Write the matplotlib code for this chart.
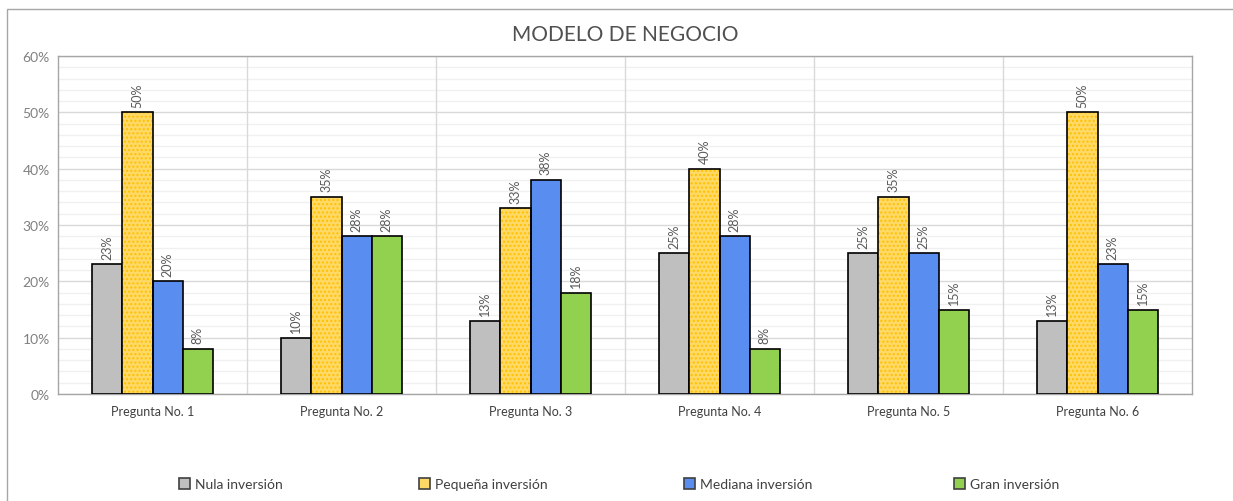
import matplotlib.pyplot as plt
import matplotlib.patches as mpatches
from matplotlib.ticker import MultipleLocator, FuncFormatter
import numpy as np

plt.rcParams['font.family'] = ['Lato', 'DejaVu Sans']

preguntas = ['Pregunta No. 1', 'Pregunta No. 2', 'Pregunta No. 3',
             'Pregunta No. 4', 'Pregunta No. 5', 'Pregunta No. 6']
series = ['Nula inversión', 'Pequeña inversión', 'Mediana inversión', 'Gran inversión']
nula = [23, 10, 13, 25, 25, 13]
pequena = [50, 35, 33, 40, 35, 50]
mediana = [20, 28, 38, 28, 25, 23]
gran = [8, 28, 18, 8, 15, 15]

valores = [nula, pequena, mediana, gran]
colores = ['#BFBFBF', '#FFD966', '#5A8DF0', '#92D050']

fig = plt.figure(figsize=(12.33, 5.02), dpi=100)
W, H = 1233, 502
ax = fig.add_axes([58 / W, 1 - 395 / H, (1192 - 58) / W, (395 - 57) / H])

# marco exterior (solo se ven el borde izquierdo y el superior)
fig.patches.append(mpatches.Rectangle((7 / W, -0.1), 1.2, 1.1 - 10 / H,
                                      transform=fig.transFigure, fill=False,
                                      edgecolor='#A6A6A6', linewidth=1.0))

x = np.arange(len(preguntas))
bw = 0.16
for i, (vals, col) in enumerate(zip(valores, colores)):
    pos = x + (i - 1.5) * bw
    if i == 1:
        # fondo con trama
        ax.bar(pos, vals, bw, color=col, hatch='....', edgecolor='#FFC000',
               linewidth=0, zorder=3)
        ax.bar(pos, vals, bw, fill=False, edgecolor='black',
               linewidth=1.2, zorder=4)
    else:
        ax.bar(pos, vals, bw, color=col, edgecolor='black',
               linewidth=1.2, zorder=3)
    for p, v in zip(pos, vals):
        ax.annotate('%d%%' % v, (p, v), xytext=(0, 4), textcoords='offset points',
                    rotation=90, ha='center', va='bottom', fontsize=9,
                    color='#595959', zorder=5)

ax.set_xlim(-0.5, len(preguntas) - 0.5)
ax.set_ylim(0, 60)
ax.yaxis.set_major_locator(MultipleLocator(10))
ax.yaxis.set_minor_locator(MultipleLocator(2))
ax.yaxis.set_major_formatter(FuncFormatter(lambda v, p: '%d%%' % v))
ax.grid(axis='y', which='major', color='#D9D9D9', linewidth=1.0, zorder=0)
ax.grid(axis='y', which='minor', color='#F0F0F0', linewidth=1.0, zorder=0)
for b in np.arange(0.5, len(preguntas) - 0.5, 1):
    ax.axvline(b, color='#D9D9D9', linewidth=1.0, zorder=1)
ax.set_axisbelow(True)

ax.set_xticks(x)
ax.set_xticklabels(preguntas, fontsize=9, color='#404040')
ax.tick_params(axis='x', length=0, pad=8)
ax.tick_params(axis='y', which='both', length=0, labelsize=10,
               labelcolor='#808080', pad=6)
for s in ax.spines.values():
    s.set_color('#A6A6A6')
    s.set_linewidth(1.0)

fig.text(625 / W, 1 - 35 / H, 'MODELO DE NEGOCIO', ha='center', va='center',
         fontsize=15, color='#505050')

# leyenda
leg_x = [166, 406, 671, 941]
for name, col, lx in zip(series, colores, leg_x):
    h = mpatches.Patch(facecolor=col, edgecolor='#404040', linewidth=1.2)
    fig.legend(handles=[h], labels=[name], loc='center left',
               bbox_to_anchor=(lx / W, 1 - 485 / H), frameon=False,
               fontsize=10, handlelength=0.8, handleheight=0.8,
               handletextpad=0.4, labelcolor='#404040')

fig.savefig('out.png', dpi=100)
